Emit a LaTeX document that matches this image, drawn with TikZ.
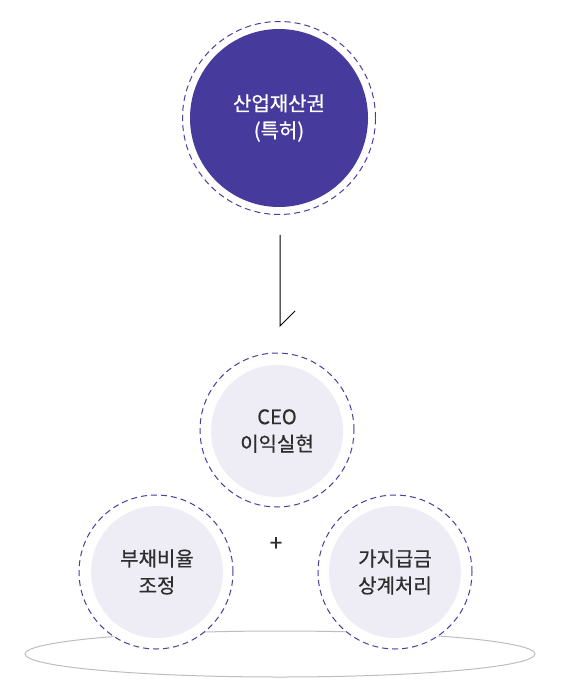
\documentclass[tikz,border=0pt]{standalone}
\usepackage{fontspec}
\setmainfont{Noto Sans CJK KR}[FakeBold=0.6]
\usetikzlibrary{shapes.geometric}
\definecolor{ringc}{HTML}{4B3DA0}
\definecolor{darkfill}{HTML}{463A9C}
\definecolor{lightfill}{HTML}{EEEDF6}
\definecolor{txt}{HTML}{2E2E2E}
\definecolor{basec}{HTML}{BDBDBD}
\begin{document}
\begin{tikzpicture}[x=1pt,y=-1pt,
  ring/.style={circle, draw=ringc, line width=1pt, dash pattern=on 6pt off 4pt, fill=white, inner sep=0pt},
  bigring/.style={ring, minimum size=193pt},
  smallring/.style={ring, minimum size=154pt},
  darkdisc/.style={circle, fill=darkfill, minimum size=178pt, inner sep=0pt, text=white, align=center, font=\fontsize{20}{27}\selectfont},
  lightdisc/.style={circle, fill=lightfill, minimum size=132pt, inner sep=0pt, text=txt, align=center, font=\fontsize{20}{27}\selectfont},
  conn/.style={line width=1pt, black}
]
\useasboundingbox (0,0) rectangle (560,700);
\node[ellipse, draw=basec, line width=1pt, minimum width=510pt, minimum height=46pt, inner sep=0pt] (base) at (280,654) {};

\node[bigring] (topring) at (279,118) {};
\node[darkdisc] (top) at (279,118) {산업재산권\\(특허)};

\node[smallring] (ceoring) at (277,430) {};
\node[lightdisc] (ceo) at (277,431) {CEO\\이익실현};

\node[smallring] (leftring) at (156,572) {};
\node[lightdisc] (left) at (157,572) {부채비율\\조정};

\node[smallring] (rightring) at (395,572) {};
\node[lightdisc] (right) at (395,572) {가지급금\\상계처리};

\node[text=txt, font=\fontsize{22}{24}\selectfont, inner sep=0pt] (plus) at (276,544) {+};

\coordinate (a1) at (280,235);
\coordinate (a2) at (280,326);
\coordinate (a3) at (295,311);
\draw[conn] (a1) -- (a2) -- (a3);
\end{tikzpicture}
\end{document}
